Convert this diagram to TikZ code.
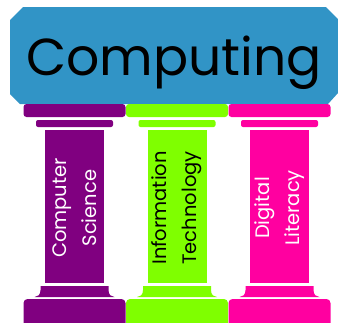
\documentclass[tikz,border=0pt]{standalone}
\usepackage{fontspec}
\setmainfont{Poppins}
\definecolor{cblue}{HTML}{3194C6}
\definecolor{cpurple}{HTML}{800080}
\definecolor{cgreen}{HTML}{7FFF00}
\definecolor{cpink}{HTML}{FF00A0}
\tikzset{
  pillartext/.style={rotate=90, align=center, font=\fontsize{19.5}{30}\selectfont}
}
\newcommand\drawpillar[2]{%
  \fill[#2, rounded corners=3pt] (#1-51,104) rectangle (#1+51,117);
  \fill[#2, rounded corners=2pt] (#1-38.5,120) rectangle (#1+38.5,127);
  \fill[#2] (#1-29.5,130) rectangle (#1+29.5,283);
  \fill[#2] (#1-34,286) -- (#1+34,286) -- (#1+34,290)
     .. controls (#1+34,295) and (#1+37,297) .. (#1+40,297)
     -- (#1-40,297) .. controls (#1-37,297) and (#1-34,295) .. (#1-34,290) -- cycle;
  \fill[#2, rounded corners=4pt] (#1-51,299) rectangle (#1+51,340);
}
\begin{document}
\begin{tikzpicture}[x=1pt,y=-1pt]
\useasboundingbox (0,0) rectangle (338,322);
\clip (0,0) rectangle (338,322);
\fill[cblue] (10,20) -- (23,7) -- (326,7) -- (338,19) -- (338,93) -- (328,104) -- (20,104) -- (10,94) -- cycle;
\node[font=\fontsize{52}{60}\selectfont, anchor=base, inner sep=0pt] (title) at (174,75) {Computing};
\drawpillar{74.5}{cpurple}
\drawpillar{177}{cgreen}
\drawpillar{279.5}{cpink}
\node[pillartext, text=white] (cs) at (74.5,208) {Computer\\Science};
\node[pillartext, text=black] (it) at (177,208) {Information\\Technology};
\node[pillartext, text=white] (dl) at (279.5,208) {Digital\\Literacy};
\end{tikzpicture}
\end{document}
